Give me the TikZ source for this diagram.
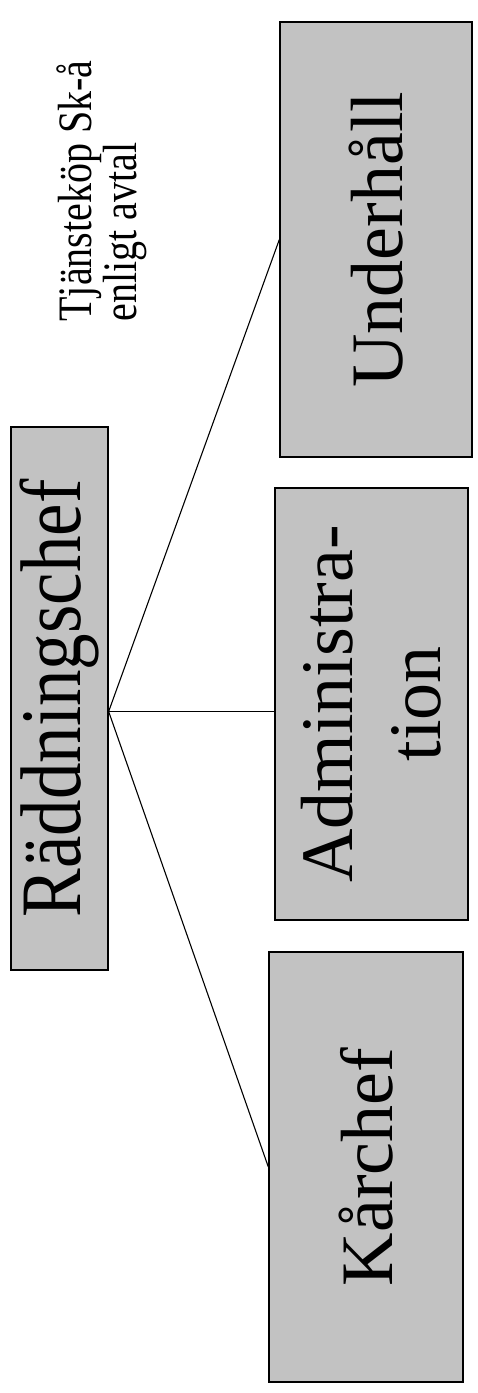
\documentclass[tikz,border=0pt]{standalone}
\usepackage{fontspec}
\usepackage{graphicx}
\setmainfont{Liberation Serif}
\definecolor{boxgray}{gray}{0.76}
\begin{document}
\begin{tikzpicture}[x=1pt,y=-1pt,
  box/.style={draw=black, line width=1.3pt, fill=boxgray, rotate=90, inner sep=0pt, align=center, font=\fontsize{74}{88}\selectfont},
  link/.style={draw=black, line width=1.1pt},
  note/.style={rotate=90, inner sep=0pt, font=\fontsize{40}{30}\selectfont}]
\useasboundingbox (0,0) rectangle (477,1393);
\node[box, minimum width=543pt, minimum height=97pt] (root) at (59.5,698.5) {\scalebox{1}[1.18]{\fontsize{73}{80}\selectfont Räddningschef}};
\node[box, minimum width=435pt, minimum height=192pt] (under) at (376,239.5) {Underhåll};
\node[box, minimum width=432pt, minimum height=193pt] (admin) at (371.5,704) {Administra-\\tion};
\node[box, minimum width=430pt, minimum height=194pt] (kar) at (366,1167) {Kårchef};
\node[note] (txt) at (102,191) {\scalebox{1}[1.2]{\begin{tabular}{@{}l@{}}Tjänsteköp Sk-å\\enligt avtal\end{tabular}}};
\coordinate (hub) at ([yshift=-13pt]root.south);
\draw[link] (hub) -- (under.north);
\draw[link] (hub) -- (hub -| admin.north);
\draw[link] (hub) -- (kar.north);
\end{tikzpicture}
\end{document}
